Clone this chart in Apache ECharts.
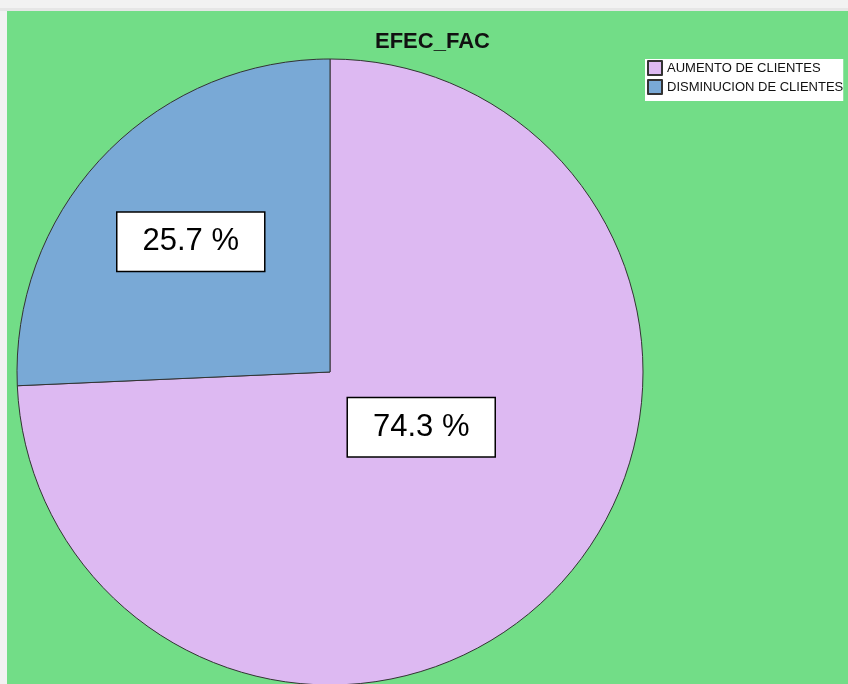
<!DOCTYPE html>
<html>
<head>
<meta charset="utf-8">
<script src="https://cdn.jsdelivr.net/npm/echarts@6/dist/echarts.min.js"></script>
<style>
html,body{margin:0;padding:0;background:#f2f2f2;width:848px;height:684px;overflow:hidden;}
#top{position:absolute;left:0;top:8px;width:848px;height:3px;background:#e6e6e6;}
#chart{position:absolute;left:7px;top:11px;width:841px;height:673px;}
</style>
</head>
<body>
<div id="top"></div>
<div id="chart"></div>
<script>
var chartTitle = 'EFEC_FAC';
var categories = ['AUMENTO DE CLIENTES', 'DISMINUCION DE CLIENTES'];
var percents = [74.3, 25.7];
var colors = ['#DDB9F2', '#79A9D6'];
var labelOffsets = [[-24, -55], [-24, -20]];

var chart = echarts.init(document.getElementById('chart'), null, {renderer: 'canvas'});
var fontFam = "'Liberation Sans', Arial, sans-serif";
var data = categories.map(function (c, i) {
  return {
    name: c,
    value: percents[i],
    itemStyle: {color: colors[i]},
    label: {offset: labelOffsets[i]}
  };
});
chart.setOption({
  animation: false,
  backgroundColor: '#72DD87',
  title: {
    text: chartTitle,
    left: 368,
    top: 20,
    padding: 0,
    textStyle: {fontFamily: fontFam, fontSize: 22, fontWeight: 'bold', color: '#111'}
  },
  legend: {
    orient: 'vertical',
    left: 638,
    top: 48,
    padding: [1, 0, 6, 2],
    backgroundColor: '#ffffff',
    itemWidth: 14,
    itemHeight: 14,
    itemGap: 3,
    icon: 'rect',
    selectedMode: false,
    textStyle: {fontFamily: fontFam, fontSize: 13, lineHeight: 14, color: '#111'},
    data: categories
  },
  series: [{
    type: 'pie',
    center: [323, 361],
    radius: 313,
    startAngle: 90,
    clockwise: true,
    avoidLabelOverlap: false,
    silent: true,
    itemStyle: {borderColor: '#333', borderWidth: 1},
    emphasis: {disabled: true},
    labelLine: {show: false},
    label: {
      show: true,
      position: 'inside',
      formatter: function (p) { return p.value.toFixed(1) + ' %'; },
      fontFamily: fontFam,
      fontSize: 31,
      color: '#000',
      backgroundColor: '#ffffff',
      borderColor: '#000',
      borderWidth: 1.5,
      padding: [13, 25, 13, 25],
      lineHeight: 32
    },
    data: data
  }]
});
</script>
</body>
</html>
